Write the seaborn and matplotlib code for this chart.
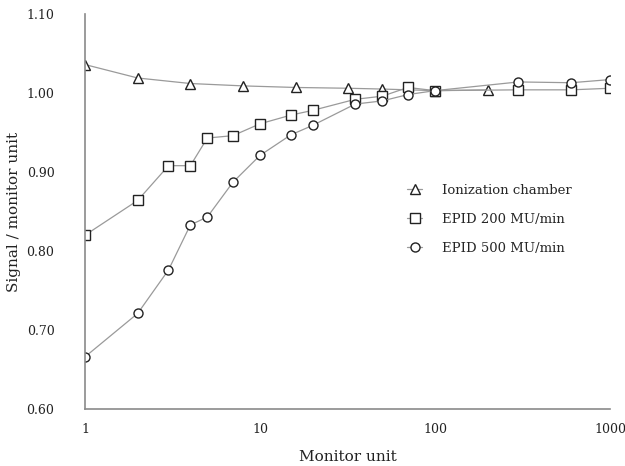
import pandas as pd
import matplotlib.pyplot as plt
import seaborn as sns
from matplotlib.ticker import FixedLocator, FixedFormatter

# data
chamber_mu = [1, 2, 4, 8, 16, 32, 50, 100, 200]
chamber_signal = [1.036, 1.019, 1.012, 1.009, 1.007, 1.006, 1.005, 1.003, 1.004]

epid_mu = [1, 2, 3, 4, 5, 7, 10, 15, 20, 35, 50, 70, 100, 300, 600, 1000]
epid200_signal = [0.820, 0.864, 0.908, 0.908, 0.943, 0.946, 0.961, 0.972, 0.978,
                  0.992, 0.996, 1.007, 1.003, 1.004, 1.004, 1.006]
epid500_signal = [0.666, 0.721, 0.776, 0.833, 0.843, 0.887, 0.921, 0.947, 0.959,
                  0.986, 0.990, 0.998, 1.003, 1.014, 1.013, 1.017]

series = [
    ("Ionization chamber", chamber_mu, chamber_signal, "^"),
    ("EPID 200 MU/min", epid_mu, epid200_signal, "s"),
    ("EPID 500 MU/min", epid_mu, epid500_signal, "o"),
]

y_ticks = [0.60, 0.70, 0.80, 0.90, 1.00, 1.10]
x_ticks = [1, 10, 100, 1000]

sns.set_style("white")
plt.rcParams["font.family"] = ["DejaVu Serif"]

fig = plt.figure(figsize=(6.25, 4.66), dpi=100)
ax = fig.add_axes([85 / 625, 1 - 409 / 466, 525 / 625, 395 / 466])

for name, mu, signal, marker in series:
    df = pd.DataFrame({"mu": mu, "signal": signal})
    sns.lineplot(
        x="mu", y="signal", data=df, ax=ax, color="#9a9a9a", linewidth=0.9,
        marker=marker, markersize=6.5, markerfacecolor="white",
        markeredgecolor="#222222", markeredgewidth=1.0, label=name,
    )

ax.set_xscale("log")
ax.set_xlim(1, 1000)
ax.set_ylim(0.60, 1.10)
ax.xaxis.set_major_locator(FixedLocator(x_ticks))
ax.xaxis.set_major_formatter(FixedFormatter([str(t) for t in x_ticks]))
ax.xaxis.set_minor_locator(FixedLocator([]))
ax.yaxis.set_major_locator(FixedLocator(y_ticks))
ax.yaxis.set_major_formatter(FixedFormatter([f"{t:.2f}" for t in y_ticks]))
ax.tick_params(axis="both", length=0, labelsize=9, colors="#222222")
ax.tick_params(axis="x", pad=10)
ax.tick_params(axis="y", pad=22)

for side in ["top", "right"]:
    ax.spines[side].set_visible(False)
for side in ["left", "bottom"]:
    ax.spines[side].set_color("#8a8a8a")
    ax.spines[side].set_linewidth(1.2)

ax.set_xlabel("Monitor unit", fontsize=11, labelpad=10, color="#222222")
ax.set_ylabel("Signal / monitor unit", fontsize=11, labelpad=4, color="#222222")

leg = ax.legend(loc="upper left", bbox_to_anchor=(0.59, 0.6), frameon=False,
                fontsize=9.5, handlelength=1.2, labelspacing=1.2, handletextpad=1.5)
for line in leg.get_lines():
    line.set_color("#9a9a9a")

fig.savefig("out.png", dpi=100)
